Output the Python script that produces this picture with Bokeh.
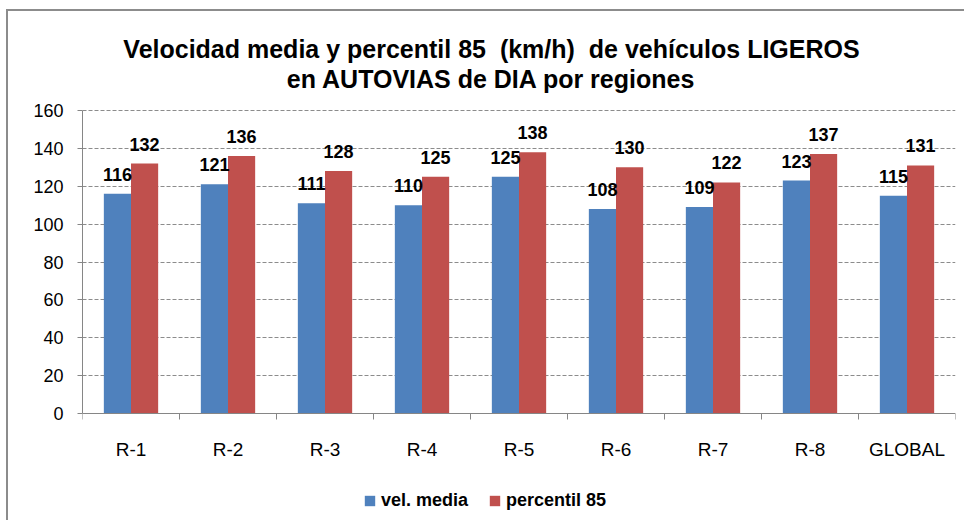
from bokeh.plotting import figure
from bokeh.models import (Range1d, FixedTicker, Legend, LegendItem, Label)
from bokeh.embed import file_html
from bokeh.resources import INLINE
from bokeh.core.properties import value

# ---- data ----
categories = ["R-1", "R-2", "R-3", "R-4", "R-5", "R-6", "R-7", "R-8", "GLOBAL"]
vel_media = [116, 121, 111, 110, 125, 108, 109, 123, 115]
percentil_85 = [132, 136, 128, 125, 138, 130, 122, 137, 131]
y_ticks = [0, 20, 40, 60, 80, 100, 120, 140, 160]
series_names = ["vel. media", "percentil 85"]
title_lines = ["Velocidad media y percentil 85  (km/h)  de vehículos LIGEROS",
               "en AUTOVIAS de DIA por regiones"]

BLUE = "#4F81BD"
RED = "#C0504D"
AXIS = "#868686"
FONT = "Liberation Sans"

# ---- layout (page pixels) ----
OX, OY = 8, 11            # canvas origin on the page (after frame border)
W, H = 958, 511
PX_L, PX_R = 82, 955      # plot area left / right
PX_TOP, PX_BOT = 110, 413 # y = 160 and y = 0
n = len(categories)
y_max = y_ticks[-1]


def xd(px):
    return (px - PX_L) / (PX_R - PX_L) * n


def yd(py):
    return (PX_BOT - py) / (PX_BOT - PX_TOP) * y_max


p = figure(width=W, height=H, output_backend="svg", toolbar_location=None,
           x_range=Range1d(0, n), y_range=Range1d(yd(OY + H), yd(OY)),
           x_axis_location=None,
           min_border_left=PX_L - OX, min_border_right=OX + W - PX_R,
           min_border_top=0, min_border_bottom=0)
p.styles = {"margin-left": "6px", "margin-top": "9px",
            "border-left": "2px solid #8c8c8c", "border-top": "2px solid #8c8c8c"}
p.outline_line_color = None
p.background_fill_color = "white"
p.border_fill_color = "white"

centers = [i + 0.5 for i in range(n)]
bw = 0.28
x_blue = [c - bw / 2 for c in centers]
x_red = [c + bw / 2 for c in centers]

r1 = p.vbar(x=x_blue, top=vel_media, width=bw, fill_color=BLUE, line_color=None)
r2 = p.vbar(x=x_red, top=percentil_85, width=bw, fill_color=RED, line_color=None)

for xs, vals in ((x_blue, vel_media), (x_red, percentil_85)):
    p.text(x=xs, y=vals, text=[str(v) for v in vals], text_align="center",
           text_baseline="bottom", y_offset=-13, text_font=value(FONT),
           text_font_style="bold", text_font_size="18px", text_color="black")

# grid
p.xgrid.visible = False
p.ygrid.ticker = FixedTicker(ticks=y_ticks[1:])
p.ygrid.grid_line_color = "#8c8c8c"
p.ygrid.grid_line_dash = "4 2"
p.ygrid.grid_line_width = 1

# y axis
ya = p.yaxis[0]
ya.ticker = FixedTicker(ticks=y_ticks)
ya.bounds = (0, y_max)
ya.axis_line_color = AXIS
ya.major_tick_line_color = AXIS
ya.major_tick_out = 5
ya.major_tick_in = 0
ya.minor_tick_line_color = None
ya.major_label_standoff = 14
ya.major_label_text_font = FONT
ya.major_label_text_font_size = "18px"
ya.major_label_text_color = "black"

# x axis drawn by hand: axis line, boundary ticks, category labels
bounds = list(range(n + 1))
p.segment(x0=[0], y0=[0], x1=[n], y1=[0], line_color=AXIS, line_width=1)
tick_len = yd(PX_BOT) - yd(PX_BOT + 6)
p.segment(x0=bounds, y0=[0] * len(bounds), x1=bounds,
          y1=[-tick_len] * len(bounds), line_color=AXIS, line_width=1)
p.text(x=centers, y=[0] * n, text=categories, text_align="center",
       text_baseline="top", y_offset=25, text_font=value(FONT),
       text_font_size="19px", text_color="black")

# title
title_cx = xd(491)
for line, base in zip(title_lines, (48, 78)):
    p.add_layout(Label(x=title_cx, y=yd(base), text=line.replace("  ", " \u00a0"),
                       text_align="center", text_baseline="alphabetic",
                       text_font=FONT, text_font_style="bold",
                       text_font_size="25px", text_color="black"))

# legend (inside the frame, below the axis labels)
legend = Legend(items=[LegendItem(label=series_names[0], renderers=[r1]),
                       LegendItem(label=series_names[1], renderers=[r2])],
                orientation="horizontal",
                location=(363 - PX_L, OY + H - 511),
                glyph_width=13, glyph_height=13, label_standoff=5, spacing=20,
                padding=0, margin=0, border_line_color=None,
                background_fill_alpha=0, label_text_font=FONT,
                label_text_font_style="bold", label_text_font_size="18px",
                label_text_color="black")
p.add_layout(legend, "center")

open("out.html", "w").write(file_html(p, INLINE))
